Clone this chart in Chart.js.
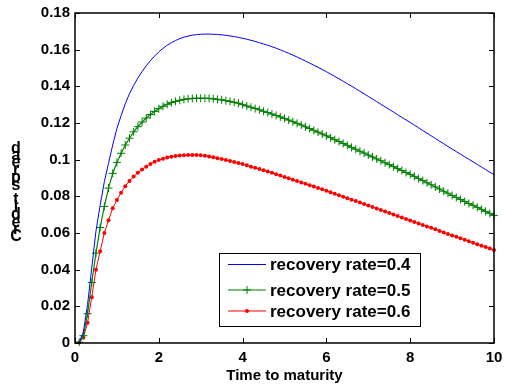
<!DOCTYPE html>
<html>
<head>
<meta charset="utf-8">
<script src="https://cdn.jsdelivr.net/npm/chart.js@4.4.1/dist/chart.umd.min.js"></script>
<style>
html,body{margin:0;padding:0;background:#fff;}
#wrap{width:505px;height:387px;}
</style>
</head>
<body>
<div id="wrap"><canvas id="c" width="505" height="387"></canvas></div>
<script>
// Time to maturity (years)
const maturities = [0.1,0.2,0.3,0.4,0.5,0.6,0.7,0.8,0.9,1.0,1.1,1.2,1.3,1.4,1.5,1.6,1.7,1.8,1.9,2.0,2.1,2.2,2.3,2.4,2.5,2.6,2.7,2.8,2.9,3.0,3.1,3.2,3.3,3.4,3.5,3.6,3.7,3.8,3.9,4.0,4.1,4.2,4.3,4.4,4.5,4.6,4.7,4.8,4.9,5.0,5.1,5.2,5.3,5.4,5.5,5.6,5.7,5.8,5.9,6.0,6.1,6.2,6.3,6.4,6.5,6.6,6.7,6.8,6.9,7.0,7.1,7.2,7.3,7.4,7.5,7.6,7.7,7.8,7.9,8.0,8.1,8.2,8.3,8.4,8.5,8.6,8.7,8.8,8.9,9.0,9.1,9.2,9.3,9.4,9.5,9.6,9.7,9.8,9.9,10.0];

// Credit spread, recovery rate = 0.4
const spreadR04 = [0.0003,0.006,0.021,0.041,0.061,0.075,0.088,0.098,0.108,0.117,0.124,0.1305,0.136,0.1405,0.1445,0.148,0.1512,0.154,0.1565,0.1588,0.1607,0.1624,0.1638,0.165,0.166,0.1668,0.1674,0.1679,0.1682,0.1684,0.1685,0.1685,0.1684,0.1683,0.1681,0.1678,0.1675,0.1671,0.1667,0.1662,0.1657,0.1651,0.1645,0.1638,0.1631,0.1624,0.1616,0.1608,0.1599,0.1590,0.1580,0.1570,0.1560,0.1549,0.1538,0.1527,0.1515,0.1504,0.1492,0.1480,0.1467,0.1454,0.1441,0.1428,0.1414,0.1401,0.1387,0.1373,0.1359,0.1345,0.1331,0.1317,0.1302,0.1288,0.1274,0.1260,0.1245,0.1231,0.1217,0.1203,0.1188,0.1174,0.1159,0.1145,0.1130,0.1116,0.1101,0.1087,0.1072,0.1058,0.1044,0.1030,0.1016,0.1002,0.0988,0.0974,0.0960,0.0946,0.0932,0.0918];

// Credit spread, recovery rate = 0.5
const spreadR05 = [0.0005,0.004,0.016,0.033,0.049,0.063,0.0745,0.0845,0.0925,0.0985,0.1035,0.108,0.1117,0.1152,0.118,0.1205,0.1227,0.1246,0.1263,0.1278,0.1291,0.1302,0.1311,0.1318,0.1324,0.1329,0.1332,0.1334,0.1335,0.1335,0.1335,0.1334,0.1332,0.1329,0.1326,0.1322,0.1318,0.1313,0.1308,0.1300,0.1293,0.1286,0.1279,0.1272,0.1264,0.1257,0.1249,0.1241,0.1233,0.1225,0.1216,0.1207,0.1198,0.1189,0.1179,0.1170,0.1160,0.1150,0.1140,0.1130,0.1120,0.1109,0.1099,0.1088,0.1078,0.1067,0.1057,0.1046,0.1036,0.1025,0.1015,0.1004,0.0994,0.0983,0.0973,0.0962,0.0951,0.0941,0.0930,0.0920,0.0909,0.0897,0.0886,0.0874,0.0863,0.0851,0.0840,0.0828,0.0817,0.0805,0.0794,0.0783,0.0772,0.0761,0.0751,0.0740,0.0729,0.0718,0.0707,0.0696];

// Credit spread, recovery rate = 0.6
const spreadR06 = [0.0003,0.003,0.011,0.025,0.040,0.050,0.060,0.067,0.0735,0.078,0.082,0.0855,0.0884,0.0908,0.0929,0.0947,0.0962,0.0977,0.0988,0.0998,0.1005,0.1012,0.1016,0.1020,0.1023,0.1024,0.1025,0.1025,0.1025,0.1024,0.1021,0.1017,0.1013,0.1008,0.1003,0.0998,0.0993,0.0987,0.0982,0.0976,0.0969,0.0962,0.0956,0.0949,0.0942,0.0935,0.0928,0.0921,0.0913,0.0906,0.0898,0.0891,0.0883,0.0876,0.0868,0.0861,0.0853,0.0845,0.0838,0.0830,0.0822,0.0814,0.0806,0.0798,0.0790,0.0782,0.0774,0.0766,0.0758,0.0750,0.0742,0.0734,0.0725,0.0717,0.0709,0.0701,0.0693,0.0684,0.0676,0.0668,0.0660,0.0652,0.0644,0.0636,0.0628,0.0620,0.0611,0.0603,0.0595,0.0587,0.0579,0.0571,0.0563,0.0555,0.0547,0.0539,0.0531,0.0523,0.0515,0.0507];

const seriesLabels = ['recovery rate=0.4','recovery rate=0.5','recovery rate=0.6'];
const xTicks = [0,2,4,6,8,10];
const yTicks = [0,0.02,0.04,0.06,0.08,0.1,0.12,0.14,0.16,0.18];
const xTitle = 'Time to maturity';
const yTitle = 'Credit spread';

const FONT = '"Liberation Sans", Arial, Helvetica, sans-serif';
const toPts = ys => maturities.map((x, i) => ({x: x, y: ys[i]}));

// frame, inward ticks, stacked y label, legend
const framePlugin = {
  id: 'frame',
  afterDatasetsDraw(chart) {
    const {ctx, chartArea: a, scales} = chart;
    ctx.save();
    ctx.strokeStyle = '#000';
    ctx.lineWidth = 1;
    const tl = 5;
    ctx.beginPath();
    xTicks.forEach(v => {
      const px = Math.round(scales.x.getPixelForValue(v)) + 0.5;
      ctx.moveTo(px, a.bottom); ctx.lineTo(px, a.bottom - tl);
      ctx.moveTo(px, a.top); ctx.lineTo(px, a.top + tl);
    });
    yTicks.forEach(v => {
      const py = Math.round(scales.y.getPixelForValue(v)) + 0.5;
      ctx.moveTo(a.left, py); ctx.lineTo(a.left + tl, py);
      ctx.moveTo(a.right, py); ctx.lineTo(a.right - tl, py);
    });
    ctx.stroke();
    ctx.lineWidth = 1.5;
    ctx.strokeRect(Math.round(a.left), Math.round(a.top), Math.round(a.right - a.left), Math.round(a.bottom - a.top));
    ctx.restore();
  },
  afterDraw(chart) {
    const {ctx} = chart;
    ctx.save();
    // stacked y label, upright letters, reading bottom to top
    ctx.fillStyle = '#000';
    ctx.font = 'bold 16px ' + FONT;
    ctx.textAlign = 'center';
    ctx.textBaseline = 'middle';
    const chars = yTitle.split('');
    const step = 7.4;
    const y0 = 237;
    chars.forEach((ch, i) => { ctx.fillText(ch, 16, y0 - i * step); });

    // legend
    const lx = 219, ly = 253, lw = 201, lh = 73;
    ctx.fillStyle = '#fff';
    ctx.fillRect(lx, ly, lw, lh);
    ctx.strokeStyle = '#000';
    ctx.lineWidth = 1;
    ctx.strokeRect(lx + 0.5, ly + 0.5, lw, lh);
    const rows = [264.5, 290, 311];
    const ds = chart.data.datasets;
    ds.forEach((d, i) => {
      const y = rows[i];
      ctx.strokeStyle = d.borderColor;
      ctx.lineWidth = d.borderWidth;
      ctx.beginPath(); ctx.moveTo(228, y); ctx.lineTo(266, y); ctx.stroke();
      if (d.pointStyle === 'cross') {
        ctx.lineWidth = d.pointBorderWidth;
        Chart.helpers.drawPoint(ctx, {pointStyle: 'cross', radius: d.pointRadius, borderWidth: d.pointBorderWidth}, 247, y);
      } else if (d.pointStyle === 'circle') {
        ctx.fillStyle = d.pointBackgroundColor; ctx.beginPath(); ctx.arc(247, y, d.pointRadius, 0, Math.PI*2); ctx.fill();
      }
      ctx.fillStyle = '#000';
      ctx.font = 'bold 17px ' + FONT;
      ctx.textAlign = 'left';
      ctx.textBaseline = 'middle';
      ctx.fillText(seriesLabels[i], 270, y + 1);
    });
    ctx.restore();
  }
};

new Chart(document.getElementById('c'), {
  type: 'line',
  data: {
    datasets: [
      {label: seriesLabels[0], data: toPts(spreadR04), borderColor: '#0000ff', backgroundColor: '#0000ff', borderWidth: 1, pointRadius: 0, pointStyle: false, clip: false},
      {label: seriesLabels[1], data: toPts(spreadR05), borderColor: '#008000', backgroundColor: '#008000', borderWidth: 1.2, pointStyle: 'cross', pointRadius: 4, pointBorderWidth: 1, pointBorderColor: '#008000', clip: false},
      {label: seriesLabels[2], data: toPts(spreadR06), borderColor: '#ff0000', backgroundColor: '#ff0000', borderWidth: 1, pointStyle: 'circle', pointRadius: 2, pointBorderWidth: 0, pointBackgroundColor: '#ff0000', pointBorderColor: '#ff0000', clip: false}
    ]
  },
  options: {
    responsive: false,
    animation: false,
    devicePixelRatio: 1,
    layout: {padding: {left: 0, top: 13, right: 11, bottom: 0}},
    plugins: {legend: {display: false}, tooltip: {enabled: false}},
    elements: {line: {tension: 0}},
    scales: {
      x: {
        type: 'linear', min: 0, max: 10,
        afterBuildTicks: s => { s.ticks = xTicks.map(v => ({value: v})); },
        afterFit: s => { s.height = 44; s.paddingLeft = 0; s.paddingRight = 0; },
        grid: {display: false, drawTicks: false},
        border: {display: false},
        ticks: {color: '#000', font: {family: FONT, size: 15, weight: 'bold'}, padding: 6, maxRotation: 0, autoSkip: false},
        title: {display: true, text: xTitle, color: '#000', font: {family: FONT, size: 15, weight: 'bold'}, padding: {top: 0, bottom: 2}}
      },
      y: {
        type: 'linear', min: 0, max: 0.18,
        afterBuildTicks: s => { s.ticks = yTicks.map(v => ({value: v})); },
        afterFit: s => { s.width = 75; s.paddingTop = 0; s.paddingBottom = 0; },
        grid: {display: false, drawTicks: false},
        border: {display: false},
        ticks: {color: '#000', font: {family: FONT, size: 15, weight: 'bold'}, padding: 5, autoSkip: false,
          callback: v => String(parseFloat(Number(v).toFixed(2)))}
      }
    }
  },
  plugins: [framePlugin]
});
</script>
</body>
</html>
